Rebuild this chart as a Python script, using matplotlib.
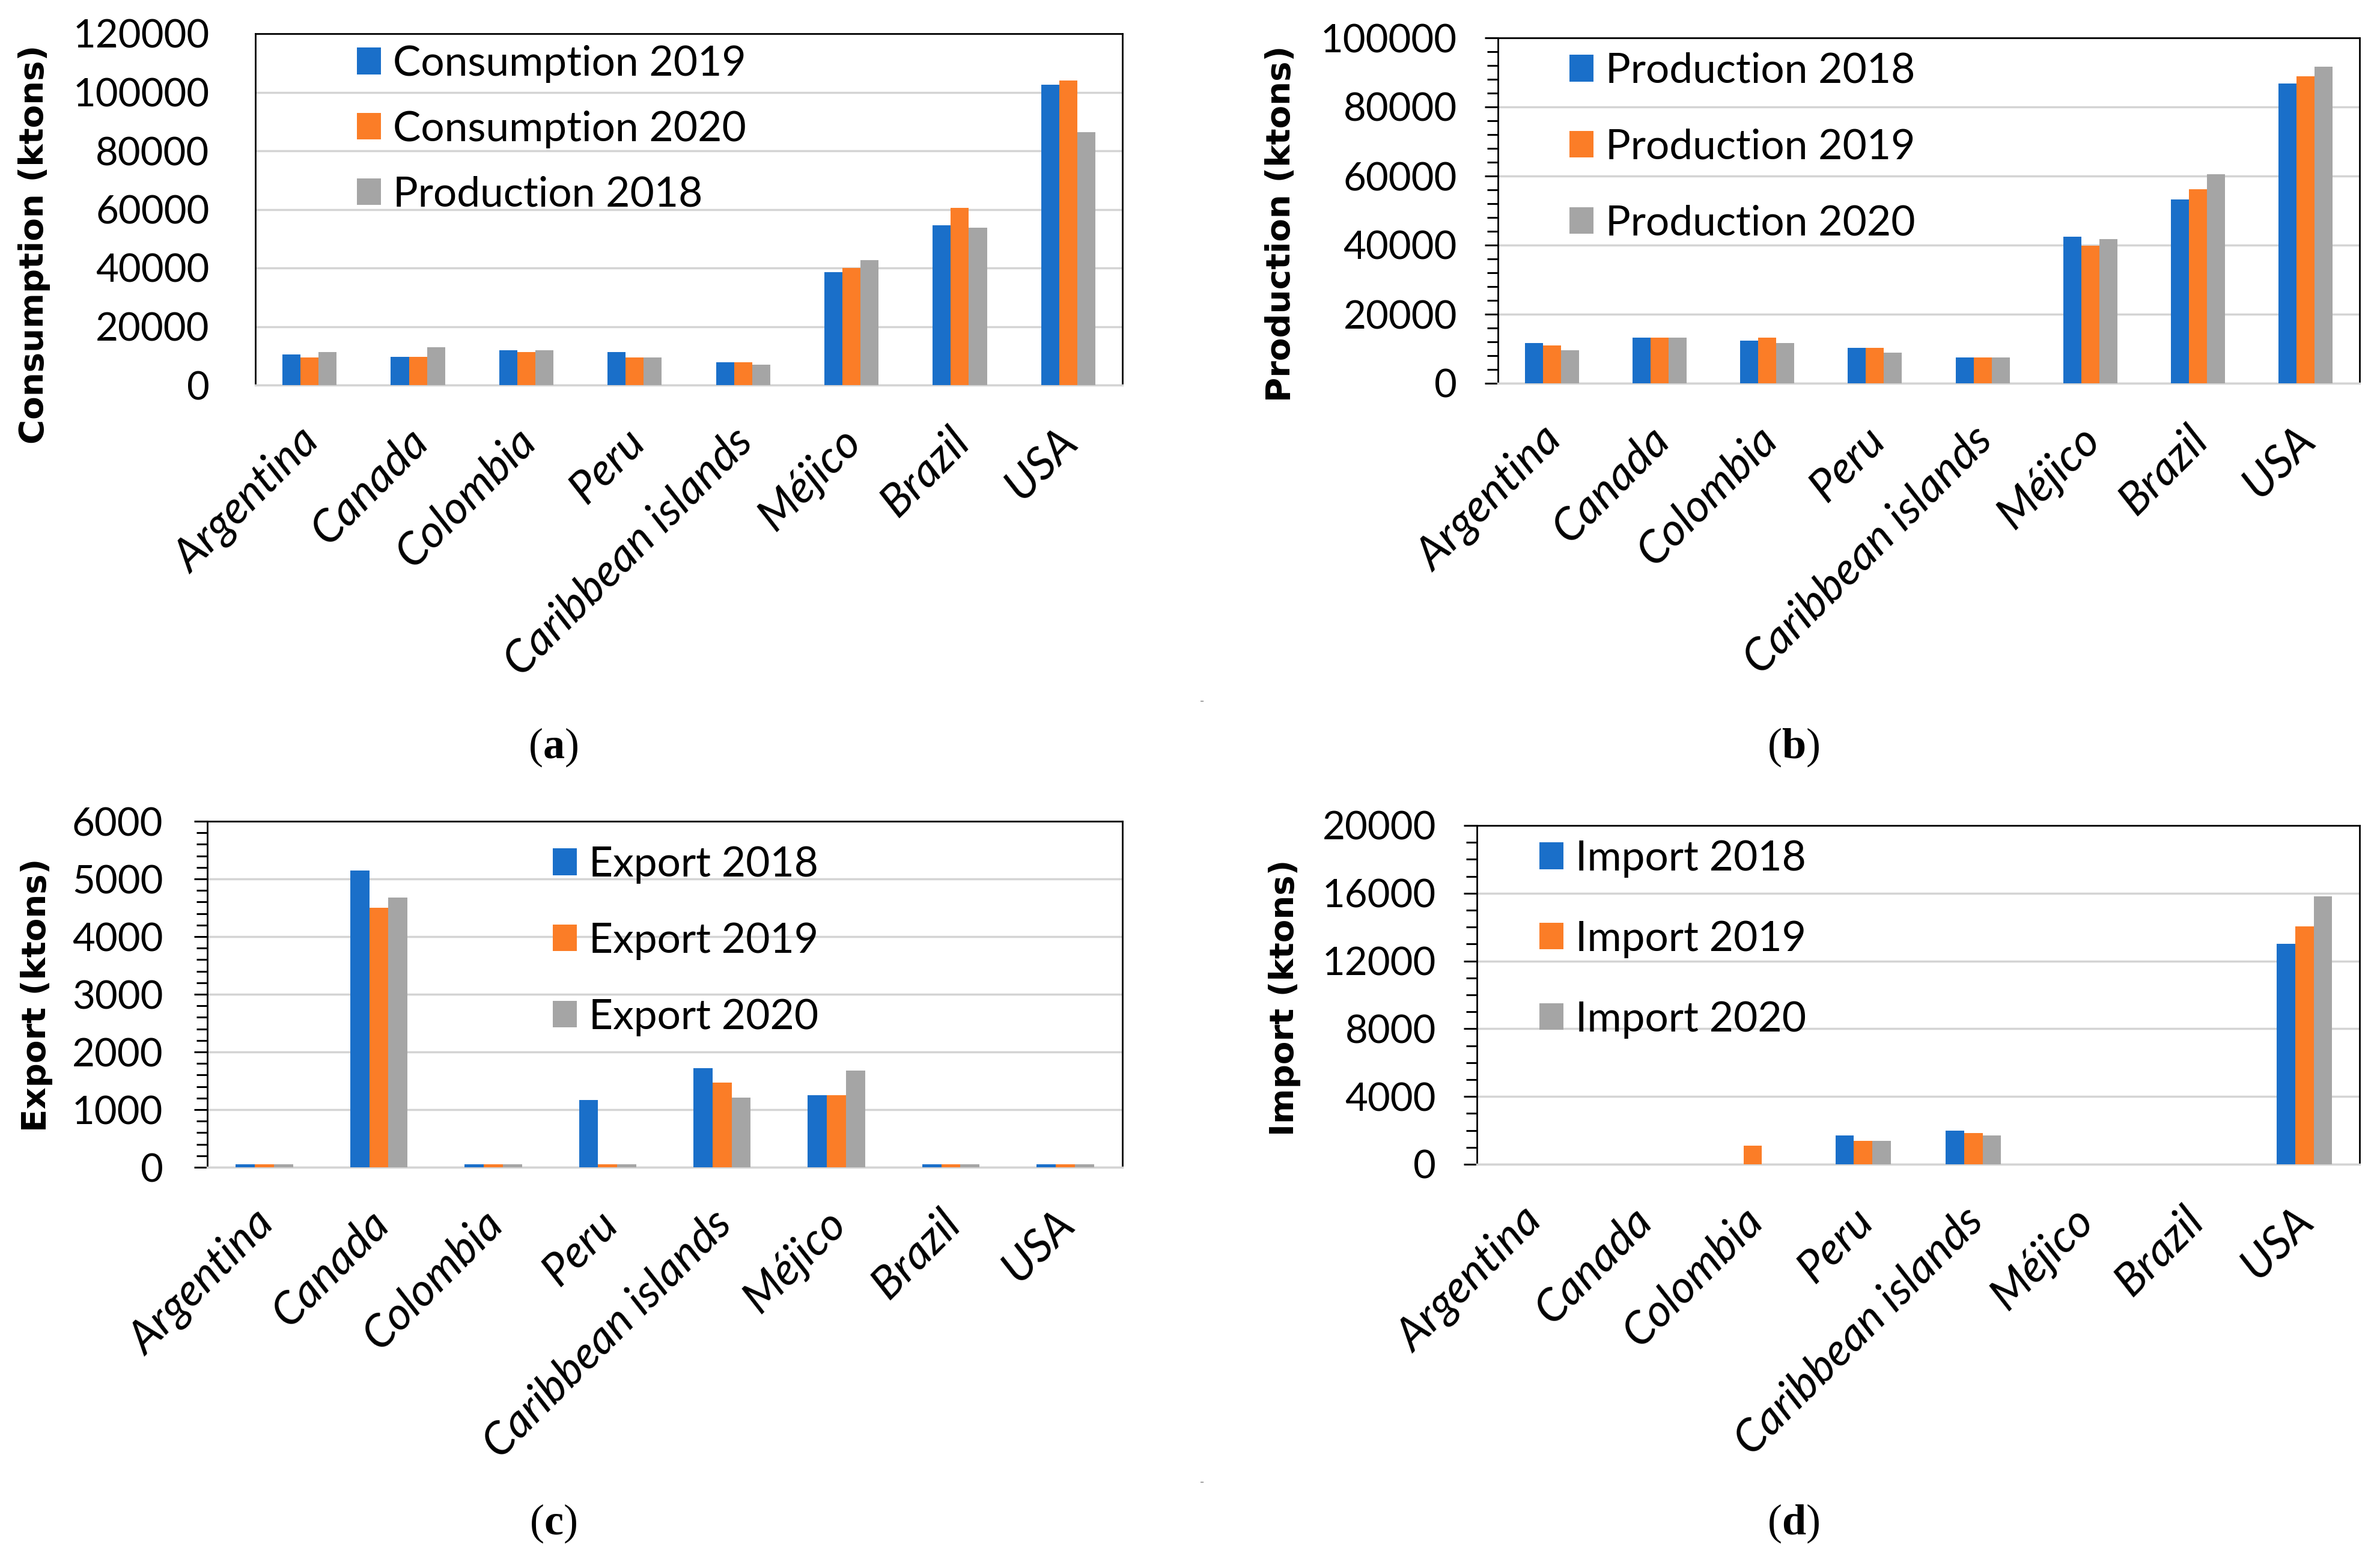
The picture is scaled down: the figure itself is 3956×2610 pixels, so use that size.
import numpy as np
import matplotlib
matplotlib.use("Agg")
import matplotlib.pyplot as plt
from matplotlib.ticker import MultipleLocator
from matplotlib.transforms import ScaledTranslation

countries = ["Argentina", "Canada", "Colombia", "Peru", "Caribbean islands",
             "Méjico", "Brazil", "USA"]

# (a) consumption, ktons
cons_2019 = [10400, 9600, 12000, 11200, 7800, 38500, 54500, 102500]
cons_2020 = [9400, 9600, 11200, 9400, 7800, 40000, 60500, 104000]
cons_prod_2018 = [11200, 12900, 12000, 9400, 6900, 42600, 53700, 86300]

# (b) production
prod_2018 = [11700, 13200, 12300, 10300, 7400, 42500, 53300, 86700]
prod_2019 = [10900, 13200, 13200, 10300, 7400, 39800, 56200, 88900]
prod_2020 = [9500, 13200, 11700, 8800, 7400, 41800, 60500, 91600]

# (c) export
export_2018 = [50, 5150, 50, 1170, 1720, 1250, 50, 50]
export_2019 = [50, 4500, 50, 50, 1470, 1250, 50, 50]
export_2020 = [50, 4680, 50, 50, 1210, 1680, 50, 50]

# (d) import
import_2018 = [0, 0, 0, 1700, 2000, 0, 0, 13000]
import_2019 = [0, 0, 1090, 1390, 1850, 0, 0, 14050]
import_2020 = [0, 0, 0, 1390, 1700, 0, 0, 15800]

BLUE, ORANGE, GRAY = "#1a6fc9", "#fb7d27", "#a5a5a5"

plt.rcParams["mathtext.fontset"] = "custom"
plt.rcParams["mathtext.rm"] = "Liberation Serif"
plt.rcParams["mathtext.bf"] = "Liberation Serif:bold"

W, H = 3956, 2610
fig = plt.figure(figsize=(W / 100, H / 100), dpi=100)


def px(x, y):
    return x / W, 1 - y / H


def panel(box, series, labels, ymax, major, minor, ylabel, ylab_xy,
          leg_xy, leg_space, ypad, ticks=True):
    l, t, r, b = box
    ax = fig.add_axes([l / W, 1 - b / H, (r - l) / W, (b - t) / H])
    x = np.arange(len(countries))
    w = 0.167
    for k, (vals, col) in enumerate(zip(series, [BLUE, ORANGE, GRAY])):
        ax.bar(x + (k - 1) * w, vals, w, color=col, label=labels[k], zorder=3)
    ax.set_xlim(-0.5, len(countries) - 0.5)
    ax.set_ylim(0, ymax)
    ax.yaxis.set_major_locator(MultipleLocator(major))
    ax.grid(axis="y", color="#d4d4d4", lw=2.5, zorder=0)
    for s in ["top", "left", "right"]:
        ax.spines[s].set_color("black")
        ax.spines[s].set_linewidth(2)
    ax.spines["bottom"].set_color("#d4d4d4")
    ax.spines["bottom"].set_linewidth(2.5)
    if ticks:
        ax.yaxis.set_minor_locator(MultipleLocator(minor))
        ax.tick_params(axis="y", which="major", length=16, width=2.2, direction="out", pad=ypad)
        ax.tick_params(axis="y", which="minor", length=13, width=2.2, direction="out")
    else:
        ax.tick_params(axis="y", length=0, pad=ypad)
    ax.set_yticks(ax.get_yticks())
    ax.set_yticklabels([f"{int(v)}" for v in ax.get_yticks()], family="Lato", fontsize=47)
    ax.set_ylim(0, ymax)
    ax.set_xticks(x)
    ax.set_xticklabels(countries, rotation=45, ha="right", va="top",
                       rotation_mode="anchor", family="Lato", style="italic", fontsize=54)
    ax.tick_params(axis="x", length=0, pad=42)
    shift = ScaledTranslation(-0.2, 0, fig.dpi_scale_trans)
    for lab in ax.get_xticklabels():
        lab.set_transform(lab.get_transform() + shift)
    fx, fy = px(*ylab_xy)
    fig.text(fx, fy, ylabel, rotation=90, ha="center", va="center",
             family="DejaVu Sans", weight="bold", fontsize=40.5)
    lx, ly = px(*leg_xy)
    ax.legend(loc="upper left", bbox_to_anchor=(lx, ly), bbox_transform=fig.transFigure,
              frameon=False, prop={"family": "Lato", "size": 50},
              handlelength=0.58, handleheight=0.6, handletextpad=0.29,
              labelspacing=leg_space, borderpad=0, borderaxespad=0)
    return ax


panel((425, 56, 1868, 641), [cons_2019, cons_2020, cons_prod_2018],
      ["Consumption 2019", "Consumption 2020", "Production 2018"],
      120000, 20000, 4000, "Consumption (ktons)", (57, 407),
      (594, 75), 0.66, 55, ticks=False)

panel((2493, 63, 3927, 638), [prod_2018, prod_2019, prod_2020],
      ["Production 2018", "Production 2019", "Production 2020"],
      100000, 20000, 4000, "Production (ktons)", (2132, 372),
      (2612, 87), 0.92, 33)

panel((345, 1367, 1868, 1943), [export_2018, export_2019, export_2020],
      ["Export 2018", "Export 2019", "Export 2020"],
      6000, 1000, 200, "Export (ktons)", (61, 1656),
      (920, 1408), 0.92, 37)

panel((2458, 1374, 3927, 1938), [import_2018, import_2019, import_2020],
      ["Import 2018", "Import 2019", "Import 2020"],
      20000, 4000, 1000, "Import (ktons)", (2138, 1661),
      (2562, 1398), 1.02, 33)

for tag, (xx, yy) in zip("abcd", [(921, 1244), (2985, 1244), (921, 2536), (2985, 2536)]):
    fx, fy = px(xx, yy)
    fig.text(fx, fy, "($\\mathbf{" + tag + "}$)", ha="center", va="center",
             family="Liberation Serif", fontsize=52)

for yy in (1168, 2468):
    fx, fy = px(2001, yy)
    fig.text(fx, fy, "-", ha="center", va="center", color="#888888", fontsize=14)

fig.savefig("out.png", dpi=100)
